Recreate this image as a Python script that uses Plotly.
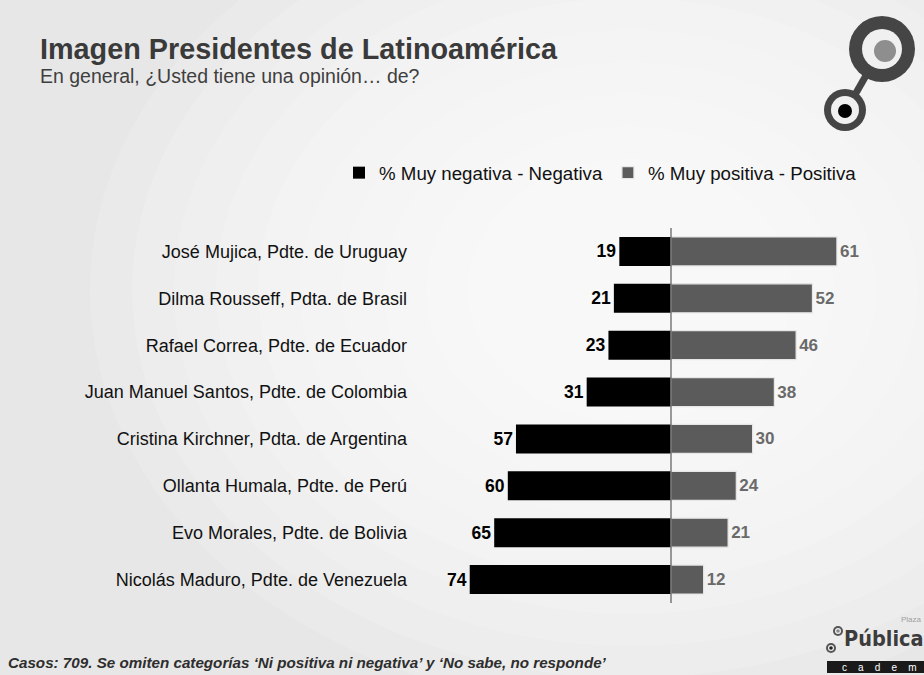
import plotly.graph_objects as go

# Data (top to bottom)
presidents = [
    "José Mujica, Pdte. de Uruguay",
    "Dilma Rousseff, Pdta. de Brasil",
    "Rafael Correa, Pdte. de Ecuador",
    "Juan Manuel Santos, Pdte. de Colombia",
    "Cristina Kirchner, Pdta. de Argentina",
    "Ollanta Humala, Pdte. de Perú",
    "Evo Morales, Pdte. de Bolivia",
    "Nicolás Maduro, Pdte. de Venezuela",
]
negative = [19, 21, 23, 31, 57, 60, 65, 74]
positive = [61, 52, 46, 38, 30, 24, 21, 12]

series_names = ["% Muy negativa - Negativa", "% Muy positiva - Positiva"]

# Canvas geometry (pixels)
W, H = 924, 675
ML, MR, MT, MB = 408, 24, 228, 72
PW, PH = W - ML - MR, H - MT - MB
PX_PER_UNIT = 2.72
ZERO_PX = 671


def px(x):
    return (x - ML) / PW


def py(y):
    return (H - MB - y) / PH


def circle(cx, cy, r, color):
    return dict(type="circle", xref="paper", yref="paper",
                x0=px(cx - r), x1=px(cx + r), y0=py(cy + r), y1=py(cy - r),
                fillcolor=color, line=dict(width=0), layer="above")


colors = {
    "neg": "#000000",
    "pos": "#5b5b5b",
    "pos_text": "#6a6a6a",
    "bg": "#e7e7e7",
    "logo": "#454545",
    "hole": "#f0f0f0",
}

fig = go.Figure()

fig.add_trace(go.Bar(
    y=presidents, x=[-v for v in negative], orientation="h",
    name=series_names[0],
    marker=dict(color=colors["neg"], line=dict(width=0)),
    text=[str(v) for v in negative], textposition="outside",
    textfont=dict(family="Arial, Liberation Sans", size=17.5, color="#000000"),
    texttemplate="<b>%{text}</b>", cliponaxis=False,
))
fig.add_trace(go.Bar(
    y=presidents, x=positive, orientation="h",
    name=series_names[1],
    marker=dict(color=colors["pos"], line=dict(width=1.2, color="#e6e6e6")),
    text=[str(v) for v in positive], textposition="outside",
    textfont=dict(family="Arial, Liberation Sans", size=17, color=colors["pos_text"]),
    texttemplate="<b>%{text}</b>", cliponaxis=False,
))

shapes = []
# soft white glow to mimic the slide background gradient
n_glow = 10
for i in range(n_glow):
    f = 1 - i / n_glow
    rx, ry = 120 + 420 * f, 100 + 320 * f
    cx, cy = 630, 290
    shapes.append(dict(type="circle", xref="paper", yref="paper",
                       x0=px(cx - rx), x1=px(cx + rx), y0=py(cy + ry), y1=py(cy - ry),
                       fillcolor="white", opacity=0.15, line=dict(width=0), layer="below"))

# centre line
shapes.append(dict(type="line", xref="x", yref="paper", x0=0, x1=0, y0=0, y1=1,
                   line=dict(color="#3a3a3a", width=1), layer="above"))

# top-right logo
shapes.append(dict(type="line", xref="paper", yref="paper",
                   x0=px(852), y0=py(100), x1=px(868), y1=py(72),
                   line=dict(color=colors["logo"], width=7), layer="above"))
shapes += [
    circle(882, 49, 33, colors["logo"]),
    circle(882, 49, 20, colors["hole"]),
    circle(885, 51, 11, "#8e8e8e"),
    circle(845, 110, 21, colors["logo"]),
    circle(845, 110, 14, colors["hole"]),
    circle(845, 111, 7, "#000000"),
]

# bottom-right logo
shapes += [
    circle(838, 631, 5, "#555555"),
    circle(838, 631, 3, colors["hole"]),
    circle(838, 631, 1.8, "#888888"),
    circle(831, 648, 5, "#555555"),
    circle(831, 648, 3, colors["hole"]),
    circle(831, 648, 1.8, "#222222"),
    dict(type="rect", xref="paper", yref="paper", x0=px(827), x1=px(924),
         y0=py(673), y1=py(661), fillcolor="#1a1a1a", line=dict(width=0), layer="above"),
]

sp = "\u00a0" * 4
annotations = [
    dict(text="<b>Imagen Presidentes de Latinoamérica</b>", x=px(38), y=py(49),
         font=dict(family="Arial, Liberation Sans", size=28.8, color="#3a3a3a")),
    dict(text="En general, ¿Usted tiene una opinión… de?", x=px(38), y=py(76),
         font=dict(family="Arial, Liberation Sans", size=19.5, color="#3f3f3f")),
    dict(text="<b><i>Casos: 709. Se omiten categorías ‘Ni positiva ni negativa’ y ‘No sabe, no responde’</i></b>",
         x=px(6), y=py(662),
         font=dict(family="Arial, Liberation Sans", size=15.2, color="#2e2e2e")),
    dict(text="<b>Pública</b>", x=px(842), y=py(638),
         font=dict(family="DejaVu Sans Condensed, Arial, Liberation Sans",
                   size=21.5, color="#3c3c3c")),
    dict(text="Plaza", x=px(924), y=py(619), xanchor="right",
         font=dict(family="Arial, Liberation Sans", size=8, color="#a0a0a0")),
    dict(text="c" + sp + "a" + sp + "d" + sp + "e" + sp + "m", x=px(840), y=py(667),
         font=dict(family="Arial, Liberation Sans", size=10, color="#ffffff")),
]
for a in annotations:
    a.setdefault("xanchor", "left")
    a.update(xref="paper", yref="paper", yanchor="middle", showarrow=False)

fig.update_layout(
    width=W, height=H,
    margin=dict(l=ML, r=MR, t=MT, b=MB, pad=0),
    paper_bgcolor=colors["bg"],
    plot_bgcolor="rgba(0,0,0,0)",
    barmode="relative",
    bargap=0.38,
    showlegend=True,
    # legend starts left of the plot area so it may use the full width on one row
    legend=dict(orientation="h", x=px(339), xanchor="left", y=py(173), yanchor="middle",
                font=dict(family="Arial, Liberation Sans", size=18.7, color="#111111"),
                bgcolor="rgba(0,0,0,0)", itemwidth=30, traceorder="normal"),
    xaxis=dict(range=[-(ZERO_PX - ML) / PX_PER_UNIT, (W - MR - ZERO_PX) / PX_PER_UNIT],
               visible=False, fixedrange=True),
    yaxis=dict(autorange="reversed", showgrid=False, zeroline=False, showline=False,
               ticks="", automargin=False, fixedrange=True,
               tickfont=dict(family="Arial, Liberation Sans", size=18, color="#111111")),
    shapes=shapes,
    annotations=annotations,
    font=dict(family="Arial, Liberation Sans"),
)

fig.write_html("out.html", config={"displayModeBar": False},
               post_script="document.body.style.margin='0';")
